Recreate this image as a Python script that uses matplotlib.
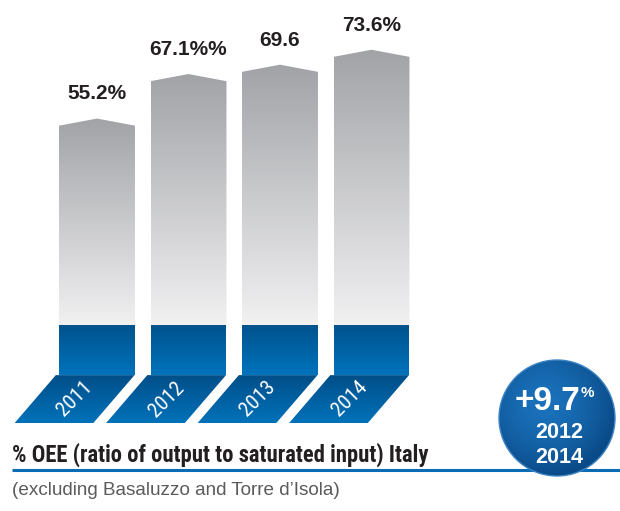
import numpy as np
import matplotlib
matplotlib.use("Agg")
import matplotlib.pyplot as plt
from matplotlib.patches import Polygon, Circle
from matplotlib import font_manager as fm

# ---- data -------------------------------------------------------------
years = ["2011", "2012", "2013", "2014"]
oee = [55.2, 67.1, 69.6, 73.6]
value_labels = ["55.2%", "67.1%%", "69.6", "73.6%"]
change_value = "+9.7"
change_unit = "%"
change_period = ["2012", "2014"]
title = "% OEE (ratio of output to saturated input) Italy"
subtitle = "(excluding Basaluzzo and Torre d\u2019Isola)"


def pick_font(*names):
    for name in names:
        try:
            fm.findfont(fm.FontProperties(family=name), fallback_to_default=False)
            return name
        except ValueError:
            continue
    return "DejaVu Sans"


NARROW = pick_font("Liberation Sans Narrow", "Roboto Condensed", "Liberation Sans")
SANS = pick_font("Liberation Sans", "Arial", "DejaVu Sans")

INK = "#231f20"


def hex2rgb(h):
    h = h.lstrip("#")
    return np.array([int(h[i:i + 2], 16) for i in (0, 2, 4)]) / 255.0


def vertical_gradient(top, bottom, n=256):
    t = np.linspace(0, 1, n)[:, None]
    c = hex2rgb(top)[None, :] * (1 - t) + hex2rgb(bottom)[None, :] * t
    return c[:, None, :]


def gradient_patch(ax, verts, top, bottom, zorder):
    poly = Polygon(verts, closed=True, facecolor="none", edgecolor="none")
    ax.add_patch(poly)
    xs = [p[0] for p in verts]
    ys = [p[1] for p in verts]
    im = ax.imshow(vertical_gradient(top, bottom),
                   extent=(min(xs), max(xs), min(ys), max(ys)),
                   origin="upper", aspect="auto", interpolation="bilinear",
                   zorder=zorder)
    im.set_clip_path(poly)
    return im


fig = plt.figure(figsize=(6.2, 5.11), dpi=100)

# ---- bar axes (category x, value y) -----------------------------------
ax = fig.add_axes([0, 0, 1, 1])
ax.axis("off")

bar_w = 0.83
notch = 1.9            # drop from the roof peak to the bar edges
band_bottom = -13.4    # blue base band below zero
ribbon_bottom = -26.2  # slanted year ribbon

for i, (yr, v, lab) in enumerate(zip(years, oee, value_labels)):
    x = i
    # grey body with a pointed roof
    body = [(x - bar_w / 2, 0), (x + bar_w / 2, 0), (x + bar_w / 2, v - notch),
            (x, v), (x - bar_w / 2, v - notch)]
    gradient_patch(ax, body, "#a2a3a7", "#f1f1f2", zorder=2)

    # blue base band
    band = [(x - bar_w / 2, band_bottom), (x + bar_w / 2, band_bottom),
            (x + bar_w / 2, 0), (x - bar_w / 2, 0)]
    gradient_patch(ax, band, "#00528c", "#0073bc", zorder=2)

    # slanted ribbon carrying the year
    ribbon = [(x - 0.45, band_bottom), (x + 0.41, band_bottom),
              (x - 0.04, ribbon_bottom), (x - 0.90, ribbon_bottom)]
    gradient_patch(ax, ribbon, "#004e88", "#0072ba", zorder=2)
    ax.text(x - 0.24, (band_bottom + ribbon_bottom) / 2, yr, rotation=45,
            ha="center", va="center", color="white", fontsize=15,
            family=NARROW, zorder=4)

    # value label above the roof
    ax.text(x, v + 5.1, lab, ha="center", va="baseline", color=INK,
            fontsize=15, fontweight="bold", family=SANS, zorder=4)

ax.set_xlim(-1.060, 5.716)
ax.set_ylim(-49.73, 86.9)

# ---- overlay in pixel units for caption and badge ---------------------
ov = fig.add_axes([0, 0, 1, 1], zorder=3)
ov.set_xlim(0, 620)
ov.set_ylim(511, 0)
ov.axis("off")
ov.patch.set_alpha(0)

ov.text(12, 462, title, ha="left", va="baseline", color=INK, fontsize=16.3,
        fontweight="bold", family=NARROW)
ov.plot([12, 620], [470, 470], color="#0a6cb5", lw=2.2, solid_capstyle="butt",
        zorder=1)
ov.text(12, 495, subtitle, ha="left", va="baseline", color="#5a5b5d",
        fontsize=13.6, family=SANS)

# round badge with radial shading
cx, cy, r = 557, 418, 58
disc = Circle((cx, cy), r, facecolor="none", edgecolor="none")
ov.add_patch(disc)
gx, gy = np.meshgrid(np.linspace(cx - r, cx + r, 200), np.linspace(cy - r, cy + r, 200))
dist = np.hypot(gx - (cx - 12), gy - (cy - 14)) / (r * 1.25)
dist = np.clip(dist, 0, 1)[..., None]
inner, outer = hex2rgb("#1a72bb"), hex2rgb("#0a4a88")
shade = inner * (1 - dist ** 1.6) + outer * dist ** 1.6
im = ov.imshow(shade, extent=(cx - r, cx + r, cy + r, cy - r), origin="upper",
               aspect="auto", interpolation="bilinear", zorder=5)
im.set_clip_path(disc)
ov.add_patch(Circle((cx, cy), r, facecolor="none", edgecolor="#3d84c4",
                    lw=1.0, zorder=6))

ov.text(547, 410, change_value, ha="center", va="baseline", color="white",
        fontsize=24, fontweight="bold", family=SANS, zorder=7)
ov.text(581, 397, change_unit, ha="left", va="baseline", color="white",
        fontsize=11, fontweight="bold", family=SANS, zorder=7)
ov.text(559, 438, change_period[0], ha="center", va="baseline", color="white",
        fontsize=15.5, fontweight="bold", family=SANS, zorder=7)
ov.text(559, 463, change_period[1], ha="center", va="baseline", color="white",
        fontsize=15.5, fontweight="bold", family=SANS, zorder=7)

fig.savefig("out.png", dpi=100)
